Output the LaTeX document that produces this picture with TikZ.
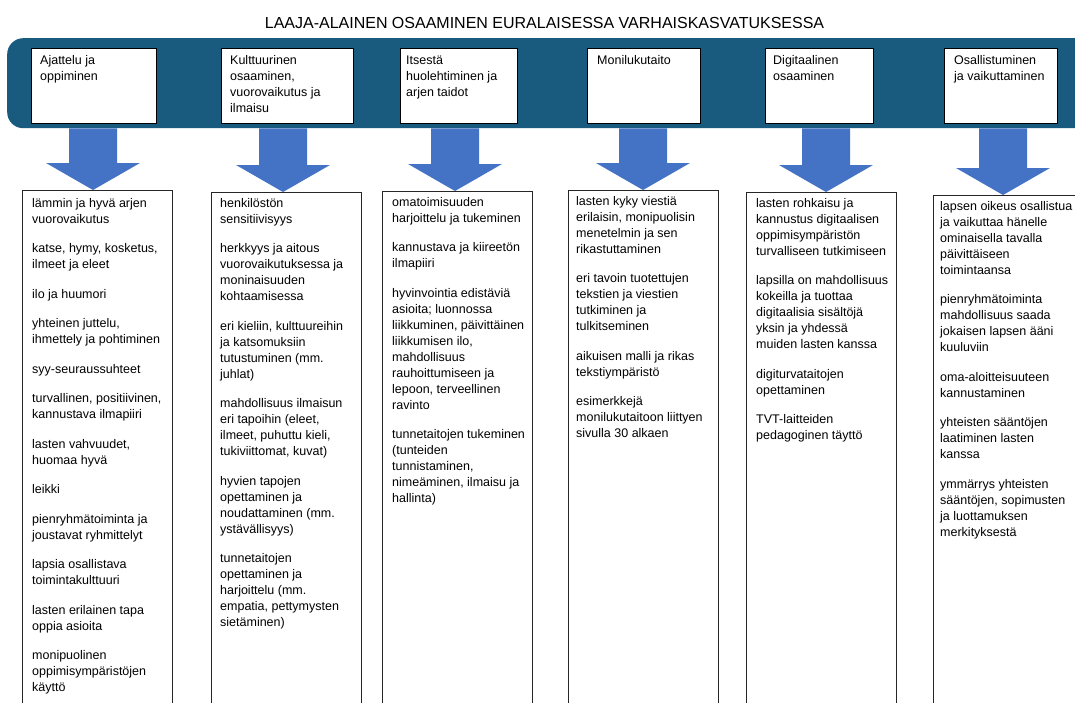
\documentclass[tikz,border=0pt]{standalone}
\usepackage{fontspec}
\setmainfont{Liberation Sans}
\usetikzlibrary{calc}
\definecolor{bandcol}{RGB}{24,91,126}
\definecolor{arrcol}{RGB}{68,114,196}
\tikzset{
  topbox/.style={draw=black, line width=0.9pt, fill=white, anchor=north west, minimum height=75pt, inner sep=0pt},
  framebox/.style={draw=black!85, line width=1pt, anchor=north west, minimum width=150pt, minimum height=560pt, inner sep=0pt},
  txt/.style={anchor=north west, inner sep=0pt, align=left, font=\fontsize{12.5}{16}\selectfont},
  blockarrow/.style={fill=arrcol, draw=none},
}
\newcommand{\pgap}{\\[13.5pt]}
\newcommand{\fl}{\rule{0pt}{11pt}}
\newcommand{\blockarr}[2]{%
  \fill[blockarrow] ($(#1)+(-24,0)$) -- ($(#2)+(-24,-27)$) -- ($(#2)+(-47,-27)$) -- (#2)
    -- ($(#2)+(47,-27)$) -- ($(#2)+(24,-27)$) -- ($(#1)+(24,0)$) -- cycle;}
\begin{document}
\begin{tikzpicture}[x=1pt,y=-1pt]
\useasboundingbox (0,0) rectangle (1075,702);
\clip (0,0) rectangle (1075,702);
\fill[white] (0,0) rectangle (1075,702);

\node[font=\fontsize{16}{19}\selectfont, anchor=base, inner sep=0pt] (title) at (544.5,28)
  {LAAJA-ALAINEN OSAAMINEN EURALAISESSA VARHAISKASVATUKSESSA};

\node[fill=bandcol, rounded corners=16pt, anchor=north west, minimum width=1120pt,
      minimum height=90pt, inner sep=0pt] (band) at (7,38) {};

% top boxes
\node[topbox, minimum width=125pt] (k1) at (31,48) {};
\node[topbox, minimum width=132pt] (k2) at (221,48) {};
\node[topbox, minimum width=117pt] (k3) at (400,48) {};
\node[topbox, minimum width=113pt] (k4) at (587,48) {};
\node[topbox, minimum width=108pt] (k5) at (765,48) {};
\node[topbox, minimum width=113pt] (k6) at (944,48) {};
\node[txt] (kt1) at ($(k1.north west)+(9,5)$) {\fl Ajattelu ja\\oppiminen};
\node[txt] (kt2) at ($(k2.north west)+(9,5)$) {\fl Kulttuurinen\\osaaminen,\\vuorovaikutus ja\\ilmaisu};
\node[txt] (kt3) at ($(k3.north west)+(6,5)$) {\fl Itsestä\\huolehtiminen ja\\arjen taidot};
\node[txt] (kt4) at ($(k4.north west)+(10,5)$) {\fl Monilukutaito};
\node[txt] (kt5) at ($(k5.north west)+(8,5)$) {\fl Digitaalinen\\osaaminen};
\node[txt] (kt6) at ($(k6.north west)+(10,5)$) {\fl Osallistuminen\\ja vaikuttaminen};

% bottom boxes
\node[framebox] (b1) at (22,190) {};
\node[framebox] (b2) at (211,192) {};
\node[framebox] (b3) at (382,191) {};
\node[framebox] (b4) at (568,190) {};
\node[framebox] (b5) at (746,192) {};
\node[framebox] (b6) at (933,195) {};

\node[txt] (bt1) at ($(b1.north west)+(10,6)$) {\fl lämmin ja hyvä arjen\\vuorovaikutus\pgap
katse, hymy, kosketus,\\ilmeet ja eleet\pgap
ilo ja huumori\pgap
yhteinen juttelu,\\ihmettely ja pohtiminen\pgap
syy-seuraussuhteet\pgap
turvallinen, positiivinen,\\kannustava ilmapiiri\pgap
lasten vahvuudet,\\huomaa hyvä\pgap
leikki\pgap
pienryhmätoiminta ja\\joustavat ryhmittelyt\pgap
lapsia osallistava\\toimintakulttuuri\pgap
lasten erilainen tapa\\oppia asioita\pgap
monipuolinen\\oppimisympäristöjen\\käyttö};

\node[txt] (bt2) at ($(b2.north west)+(9,4)$) {\fl henkilöstön\\sensitiivisyys\pgap
herkkyys ja aitous\\vuorovaikutuksessa ja\\moninaisuuden\\kohtaamisessa\pgap
eri kieliin, kulttuureihin\\ja katsomuksiin\\tutustuminen (mm.\\juhlat)\pgap
mahdollisuus ilmaisun\\eri tapoihin (eleet,\\ilmeet, puhuttu kieli,\\tukiviittomat, kuvat)\pgap
hyvien tapojen\\opettaminen ja\\noudattaminen (mm.\\ystävällisyys)\pgap
tunnetaitojen\\opettaminen ja\\harjoittelu (mm.\\empatia, pettymysten\\sietäminen)};

\node[txt] (bt3) at ($(b3.north west)+(10,4)$) {\fl omatoimisuuden\\harjoittelu ja tukeminen\pgap
kannustava ja kiireetön\\ilmapiiri\pgap
hyvinvointia edistäviä\\asioita; luonnossa\\liikkuminen, päivittäinen\\liikkumisen ilo,\\mahdollisuus\\rauhoittumiseen ja\\lepoon, terveellinen\\ravinto\pgap
tunnetaitojen tukeminen\\(tunteiden\\tunnistaminen,\\nimeäminen, ilmaisu ja\\hallinta)};

\node[txt] (bt4) at ($(b4.north west)+(8,4)$) {\fl lasten kyky viestiä\\erilaisin, monipuolisin\\menetelmin ja sen\\rikastuttaminen\pgap
eri tavoin tuotettujen\\tekstien ja viestien\\tutkiminen ja\\tulkitseminen\pgap
aikuisen malli ja rikas\\tekstiympäristö\pgap
esimerkkejä\\monilukutaitoon liittyen\\sivulla 30 alkaen};

\node[txt] (bt5) at ($(b5.north west)+(10,4)$) {\fl lasten rohkaisu ja\\kannustus digitaalisen\\oppimisympäristön\\turvalliseen tutkimiseen\pgap
lapsilla on mahdollisuus\\kokeilla ja tuottaa\\digitaalisia sisältöjä\\yksin ja yhdessä\\muiden lasten kanssa\pgap
digiturvataitojen\\opettaminen\pgap
TVT-laitteiden\\pedagoginen täyttö};

\node[txt] (bt6) at ($(b6.north west)+(7,4)$) {\fl lapsen oikeus osallistua\\ja vaikuttaa hänelle\\ominaisella tavalla\\päivittäiseen\\toimintaansa\pgap
pienryhmätoiminta\\mahdollisuus saada\\jokaisen lapsen ääni\\kuuluviin\pgap
oma-aloitteisuuteen\\kannustaminen\pgap
yhteisten sääntöjen\\laatiminen lasten\\kanssa\pgap
ymmärrys yhteisten\\sääntöjen, sopimusten\\ja luottamuksen\\merkityksestä};

% arrows
\coordinate (x1) at (93,0);
\coordinate (x2) at (283,0);
\coordinate (x3) at (455,0);
\coordinate (x4) at (643,0);
\coordinate (x5) at (826,0);
\coordinate (x6) at (1003,0);
\foreach \i in {1,...,6}{
  \coordinate (s\i) at (x\i |- band.south);
  \coordinate (e\i) at (x\i |- b\i.north);
  \blockarr{s\i}{e\i}
}
\end{tikzpicture}
\end{document}
